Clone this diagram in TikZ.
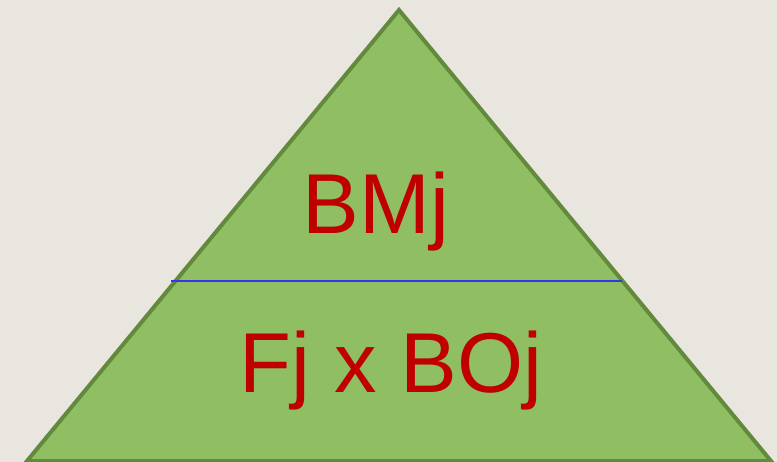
\documentclass[tikz,border=0pt]{standalone}
\usepackage{fontspec}
\setmainfont{Liberation Sans}
\definecolor{bg}{HTML}{E9E6DF}
\definecolor{trifill}{HTML}{8FBF62}
\definecolor{triedge}{HTML}{62893C}
\definecolor{txtred}{HTML}{C00000}
\definecolor{divblue}{HTML}{3535F0}
\tikzset{
  label text/.style={text=txtred, font=\fontsize{85}{85}\selectfont, anchor=base, inner sep=0pt},
}
\begin{document}
\begin{tikzpicture}[x=1pt,y=-1pt]
\fill[bg] (0,0) rectangle (777,462);
\useasboundingbox (0,0) rectangle (777,462);
\coordinate (apex) at (399,10);
\coordinate (bl) at (27,461);
\coordinate (br) at (771,461);
\filldraw[fill=trifill, draw=triedge, line width=4pt, line join=miter] (apex) -- (bl) -- (br) -- cycle;
\coordinate (dl) at (171,281);
\coordinate (dr) at (622,281);
\draw[divblue, line width=1.6pt] (dl) -- (dr);
\node[label text] (top) at (376,234) {BMj};
\node[label text] (bot) at (391,393) {Fj x BOj};
\end{tikzpicture}
\end{document}
